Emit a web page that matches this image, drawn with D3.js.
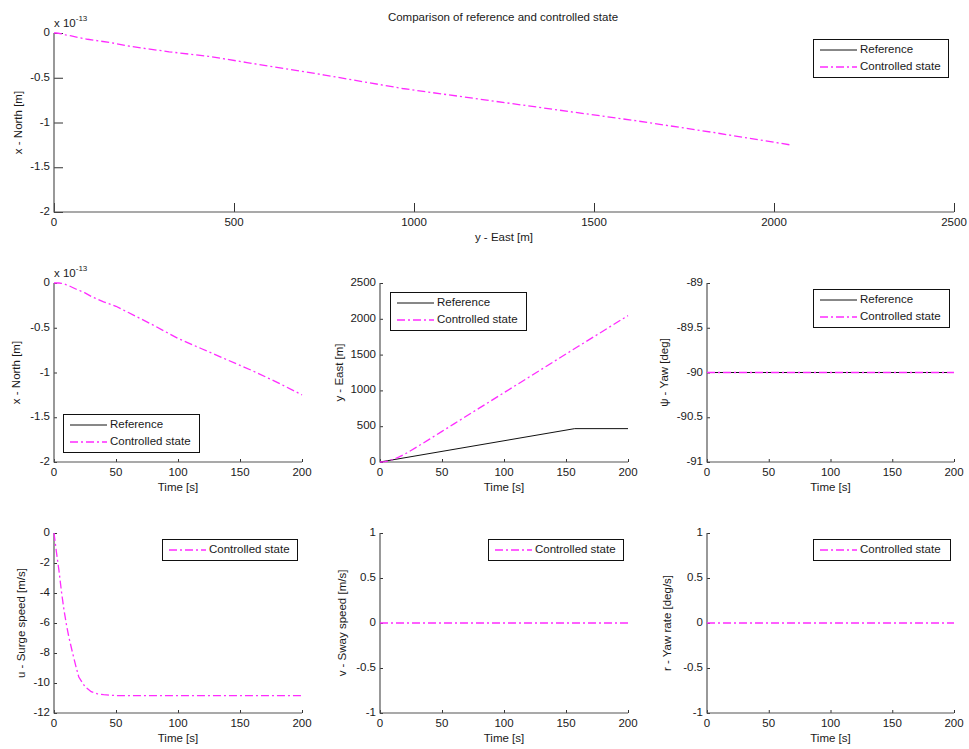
<!DOCTYPE html>
<html>
<head>
<meta charset="utf-8">
<script src="https://cdn.jsdelivr.net/npm/d3@7"></script>
<style>
    body { margin: 0; background: #fff; }
    svg text { font-family: "Liberation Sans", Arial, sans-serif; fill: #1a1a1a; }
</style>
</head>
<body>
<div id="chart-area"></div>
<script>
// ---- data ----
let time = [0, 2, 4, 6, 8, 10, 12, 15, 18, 20, 25, 30, 35, 40, 50, 60, 80, 100, 120, 140, 160, 180, 200];
// north position, in units of 1e-13 m
let northCtrl = [0, 0, 0, -0.003, -0.01, -0.02, -0.03, -0.05, -0.07, -0.08, -0.11, -0.15, -0.18, -0.21, -0.26, -0.33, -0.47, -0.62, -0.74, -0.86, -0.98, -1.11, -1.25];
let eastCtrl = [0, 1, 5, 12, 21, 32, 45, 67, 93, 111, 161, 213, 266, 320, 428, 536, 752, 968, 1184, 1400, 1616, 1830, 2045];
let surgeCtrl = [0, -1.3, -2.5, -3.9, -5.1, -6.1, -6.95, -8.0, -9.0, -9.6, -10.25, -10.58, -10.72, -10.78, -10.84, -10.84, -10.84, -10.84, -10.84, -10.84, -10.84, -10.84, -10.84];

let refTime = [0, 157, 200];
let eastRef = [0, 466, 466];

let flatTime = [0, 200];
let yawRef = [-90, -90];
let yawCtrl = [-90, -90];
let swayCtrl = [0, 0];
let yawRateCtrl = [0, 0];

let timeTicks = [0, 50, 100, 150, 200];
let eastTicks = [0, 500, 1000, 1500, 2000, 2500];
let northTicks = [-2, -1.5, -1, -0.5, 0];
let yawTicks = [-91, -90.5, -90, -89.5, -89];
let surgeTicks = [-12, -10, -8, -6, -4, -2, 0];
let unitTicks = [-1, -0.5, 0, 0.5, 1];

const REF = "Reference";
const CTRL = "Controlled state";

/* * * * * * * * * * * * * * * * * * *
*          class PanelPlot           *
* * * * * * * * * * * * * * * * * * */

class PanelPlot {
    constructor(svg, cfg) {
        this.svg = svg;
        this.cfg = cfg;
        this.initVis();
    }

    initVis() {
        let vis = this;
        let c = vis.cfg;

        vis.g = vis.svg.append("g").attr("class", "panel");

        vis.x = d3.scaleLinear().domain(c.xDomain).range([c.left, c.right]);
        vis.y = d3.scaleLinear().domain(c.yDomain).range([c.bottom, c.top]);

        // axes, ticks point inward like matlab
        let fmt = d => String(d);
        vis.g.append("g")
            .attr("class", "axis axis-x")
            .attr("transform", `translate(0, ${c.bottom})`)
            .call(d3.axisTop(vis.x).tickValues(c.xTicks).tickSize(c.tickLen).tickFormat(""));
        vis.g.append("g")
            .attr("class", "axis axis-y")
            .attr("transform", `translate(${c.left}, 0)`)
            .call(d3.axisRight(vis.y).tickValues(c.yTicks).tickSize(c.tickLen).tickFormat(""));
        vis.g.selectAll(".axis .domain").attr("stroke", "#555").attr("d", null);
        vis.g.selectAll(".axis .tick line").attr("stroke", "#333");

        // axis lines (left + bottom only)
        vis.g.append("path")
            .attr("d", `M${c.left},${c.top}V${c.bottom}H${c.right}`)
            .attr("fill", "none")
            .attr("stroke", "#555")
            .attr("stroke-width", 1.2);

        // tick labels
        vis.g.selectAll(".xlab")
            .data(c.xTicks)
            .enter().append("text")
            .attr("x", d => vis.x(d))
            .attr("y", c.bottom + 11)
            .attr("text-anchor", "middle")
            .attr("dominant-baseline", "middle")
            .style("font-size", "11.5px")
            .text(fmt);
        vis.g.selectAll(".ylab")
            .data(c.yTicks)
            .enter().append("text")
            .attr("x", c.left - 4)
            .attr("y", d => vis.y(d))
            .attr("text-anchor", "end")
            .attr("dominant-baseline", "middle")
            .style("font-size", "11.5px")
            .text(fmt);

        // axis labels
        vis.g.append("text")
            .attr("x", (c.left + c.right) / 2)
            .attr("y", c.bottom + 26)
            .attr("text-anchor", "middle")
            .attr("dominant-baseline", "middle")
            .style("font-size", "11.5px")
            .text(c.xLabel);
        vis.g.append("text")
            .attr("transform", `translate(${c.left - c.yLabelOffset}, ${(c.top + c.bottom) / 2}) rotate(-90)`)
            .attr("text-anchor", "middle")
            .attr("dominant-baseline", "middle")
            .style("font-size", "11.5px")
            .text(c.yLabel);

        if (c.exponent) {
            let t = vis.g.append("text")
                .attr("x", c.left)
                .attr("y", c.top - 6)
                .style("font-size", "11.5px");
            t.append("tspan").text("x 10");
            t.append("tspan").attr("dy", -6).style("font-size", "8px").text(c.exponent);
        }

        vis.updateVis();
    }

    updateVis() {
        let vis = this;
        let c = vis.cfg;

        let line = d3.line()
            .x(d => vis.x(d[0]))
            .y(d => vis.y(d[1]));

        vis.g.selectAll(".series")
            .data(c.series)
            .enter().append("path")
            .attr("class", "series")
            .attr("d", s => line(d3.zip(s.xs, s.ys)))
            .attr("fill", "none")
            .attr("stroke", s => s.name === REF ? "#111" : "#ff2bff")
            .attr("stroke-width", s => s.name === REF ? 1 : 1.3)
            .attr("stroke-dasharray", s => s.name === REF ? null : "8,3,2,3");

        // legend
        let lg = c.legend;
        let rowH = 17;
        let names = c.legendNames;
        let box = vis.g.append("g").attr("class", "legend");
        box.append("rect")
            .attr("x", lg.x + 0.5)
            .attr("y", lg.y + 0.5)
            .attr("width", lg.w)
            .attr("height", names.length * rowH + 4)
            .attr("fill", "#fff")
            .attr("stroke", "#111");
        names.forEach((name, i) => {
            let yy = lg.y + 11 + i * rowH;
            box.append("line")
                .attr("x1", lg.x + 7).attr("x2", lg.x + 44)
                .attr("y1", yy).attr("y2", yy)
                .attr("stroke", name === REF ? "#111" : "#ff2bff")
                .attr("stroke-width", name === REF ? 1 : 1.3)
                .attr("stroke-dasharray", name === REF ? null : "8,3,2,3");
            box.append("text")
                .attr("x", lg.x + 47)
                .attr("y", yy)
                .attr("dominant-baseline", "middle")
                .style("font-size", "11.5px")
                .text(name);
        });
    }
}

// ---- build the figure ----
let width = 969, height = 749;
let svg = d3.select("#chart-area").append("svg")
    .attr("width", width)
    .attr("height", height);

svg.append("text")
    .attr("x", 503)
    .attr("y", 18)
    .attr("text-anchor", "middle")
    .attr("dominant-baseline", "middle")
    .style("font-size", "11.5px")
    .text("Comparison of reference and controlled state");

let panels = [
    {   // top: north vs east
        left: 54, right: 954, top: 33, bottom: 212, tickLen: 9,
        xDomain: [0, 2500], xTicks: eastTicks, yDomain: [-2, 0], yTicks: northTicks,
        xLabel: "y - East [m]", yLabel: "x - North [m]", yLabelOffset: 35, exponent: "-13",
        series: [{name: CTRL, xs: eastCtrl, ys: northCtrl}],
        legendNames: [REF, CTRL], legend: {x: 813, y: 39, w: 135}
    },
    {
        left: 54, right: 302, top: 283, bottom: 462, tickLen: 3,
        xDomain: [0, 200], xTicks: timeTicks, yDomain: [-2, 0], yTicks: northTicks,
        xLabel: "Time [s]", yLabel: "x - North [m]", yLabelOffset: 37, exponent: "-13",
        series: [{name: CTRL, xs: time, ys: northCtrl}],
        legendNames: [REF, CTRL], legend: {x: 63, y: 414, w: 136}
    },
    {
        left: 380, right: 628, top: 283, bottom: 462, tickLen: 3,
        xDomain: [0, 200], xTicks: timeTicks, yDomain: [0, 2500], yTicks: eastTicks,
        xLabel: "Time [s]", yLabel: "y - East [m]", yLabelOffset: 40,
        series: [{name: REF, xs: refTime, ys: eastRef}, {name: CTRL, xs: time, ys: eastCtrl}],
        legendNames: [REF, CTRL], legend: {x: 390, y: 292, w: 136}
    },
    {
        left: 707, right: 954, top: 283, bottom: 462, tickLen: 3,
        xDomain: [0, 200], xTicks: timeTicks, yDomain: [-91, -89], yTicks: yawTicks,
        xLabel: "Time [s]", yLabel: "ψ - Yaw [deg]", yLabelOffset: 42,
        series: [{name: REF, xs: flatTime, ys: yawRef}, {name: CTRL, xs: flatTime, ys: yawCtrl}],
        legendNames: [REF, CTRL], legend: {x: 813, y: 289, w: 136}
    },
    {
        left: 54, right: 302, top: 533, bottom: 713, tickLen: 3,
        xDomain: [0, 200], xTicks: timeTicks, yDomain: [-12, 0], yTicks: surgeTicks,
        xLabel: "Time [s]", yLabel: "u - Surge speed [m/s]", yLabelOffset: 32,
        series: [{name: CTRL, xs: time, ys: surgeCtrl}],
        legendNames: [CTRL], legend: {x: 162, y: 539, w: 135}
    },
    {
        left: 380, right: 628, top: 533, bottom: 713, tickLen: 3,
        xDomain: [0, 200], xTicks: timeTicks, yDomain: [-1, 1], yTicks: unitTicks,
        xLabel: "Time [s]", yLabel: "v - Sway speed [m/s]", yLabelOffset: 37,
        series: [{name: CTRL, xs: flatTime, ys: swayCtrl}],
        legendNames: [CTRL], legend: {x: 488, y: 539, w: 135}
    },
    {
        left: 707, right: 954, top: 533, bottom: 713, tickLen: 3,
        xDomain: [0, 200], xTicks: timeTicks, yDomain: [-1, 1], yTicks: unitTicks,
        xLabel: "Time [s]", yLabel: "r - Yaw rate [deg/s]", yLabelOffset: 39,
        series: [{name: CTRL, xs: flatTime, ys: yawRateCtrl}],
        legendNames: [CTRL], legend: {x: 813, y: 539, w: 137}
    }
];

panels.forEach(cfg => new PanelPlot(svg, cfg));
</script>
</body>
</html>
